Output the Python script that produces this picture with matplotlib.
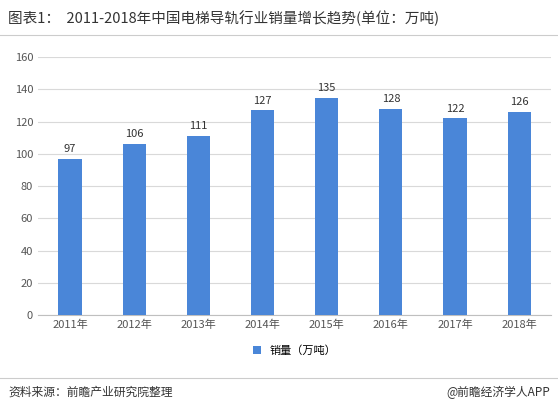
import matplotlib.pyplot as plt

plt.rcParams['font.family'] = ['Noto Sans CJK SC', 'DejaVu Sans']

years = ['2011年', '2012年', '2013年', '2014年', '2015年', '2016年', '2017年', '2018年']
sales = [97, 106, 111, 127, 135, 128, 122, 126]

fig = plt.figure(figsize=(5.58, 4.09), dpi=100)
ax = fig.add_axes([0.068, 0.23, 0.92, 0.63])

bars = ax.bar(years, sales, width=0.36, color='#4a86d8', label='销量（万吨）', zorder=3)
for b, v in zip(bars, sales):
    ax.text(b.get_x() + b.get_width() / 2, v + 3, str(v), ha='center', va='bottom', fontsize=8, color='#333333')

ax.set_ylim(0, 160)
ax.set_yticks(range(0, 161, 20))
ax.set_xlim(-0.5, len(years) - 0.5)
ax.grid(axis='y', color='#d9d9d9', linewidth=0.8, zorder=0)
for s in ['top', 'right', 'left']:
    ax.spines[s].set_visible(False)
ax.spines['bottom'].set_color('#bfbfbf')
ax.tick_params(axis='both', length=0, labelsize=8, colors='#555555')

ax.legend(loc='upper center', bbox_to_anchor=(0.5, -0.08), frameon=False, fontsize=8,
          handlelength=0.7, handleheight=0.7)

fig.text(0.015, 0.955, '图表1：  2011-2018年中国电梯导轨行业销量增长趋势(单位：万吨)', fontsize=10.5,
         color='#333333', va='center')
fig.add_artist(plt.Line2D([0, 1], [0.915, 0.915], color='#cccccc', linewidth=0.8))
fig.add_artist(plt.Line2D([0, 1], [0.075, 0.075], color='#cccccc', linewidth=0.8))
fig.text(0.015, 0.04, '资料来源：前瞻产业研究院整理', fontsize=8.5, style='italic', color='#333333', va='center')
fig.text(0.985, 0.04, '@前瞻经济学人APP', fontsize=8.5, color='#333333', va='center', ha='right')

fig.savefig('out.png', dpi=100)
